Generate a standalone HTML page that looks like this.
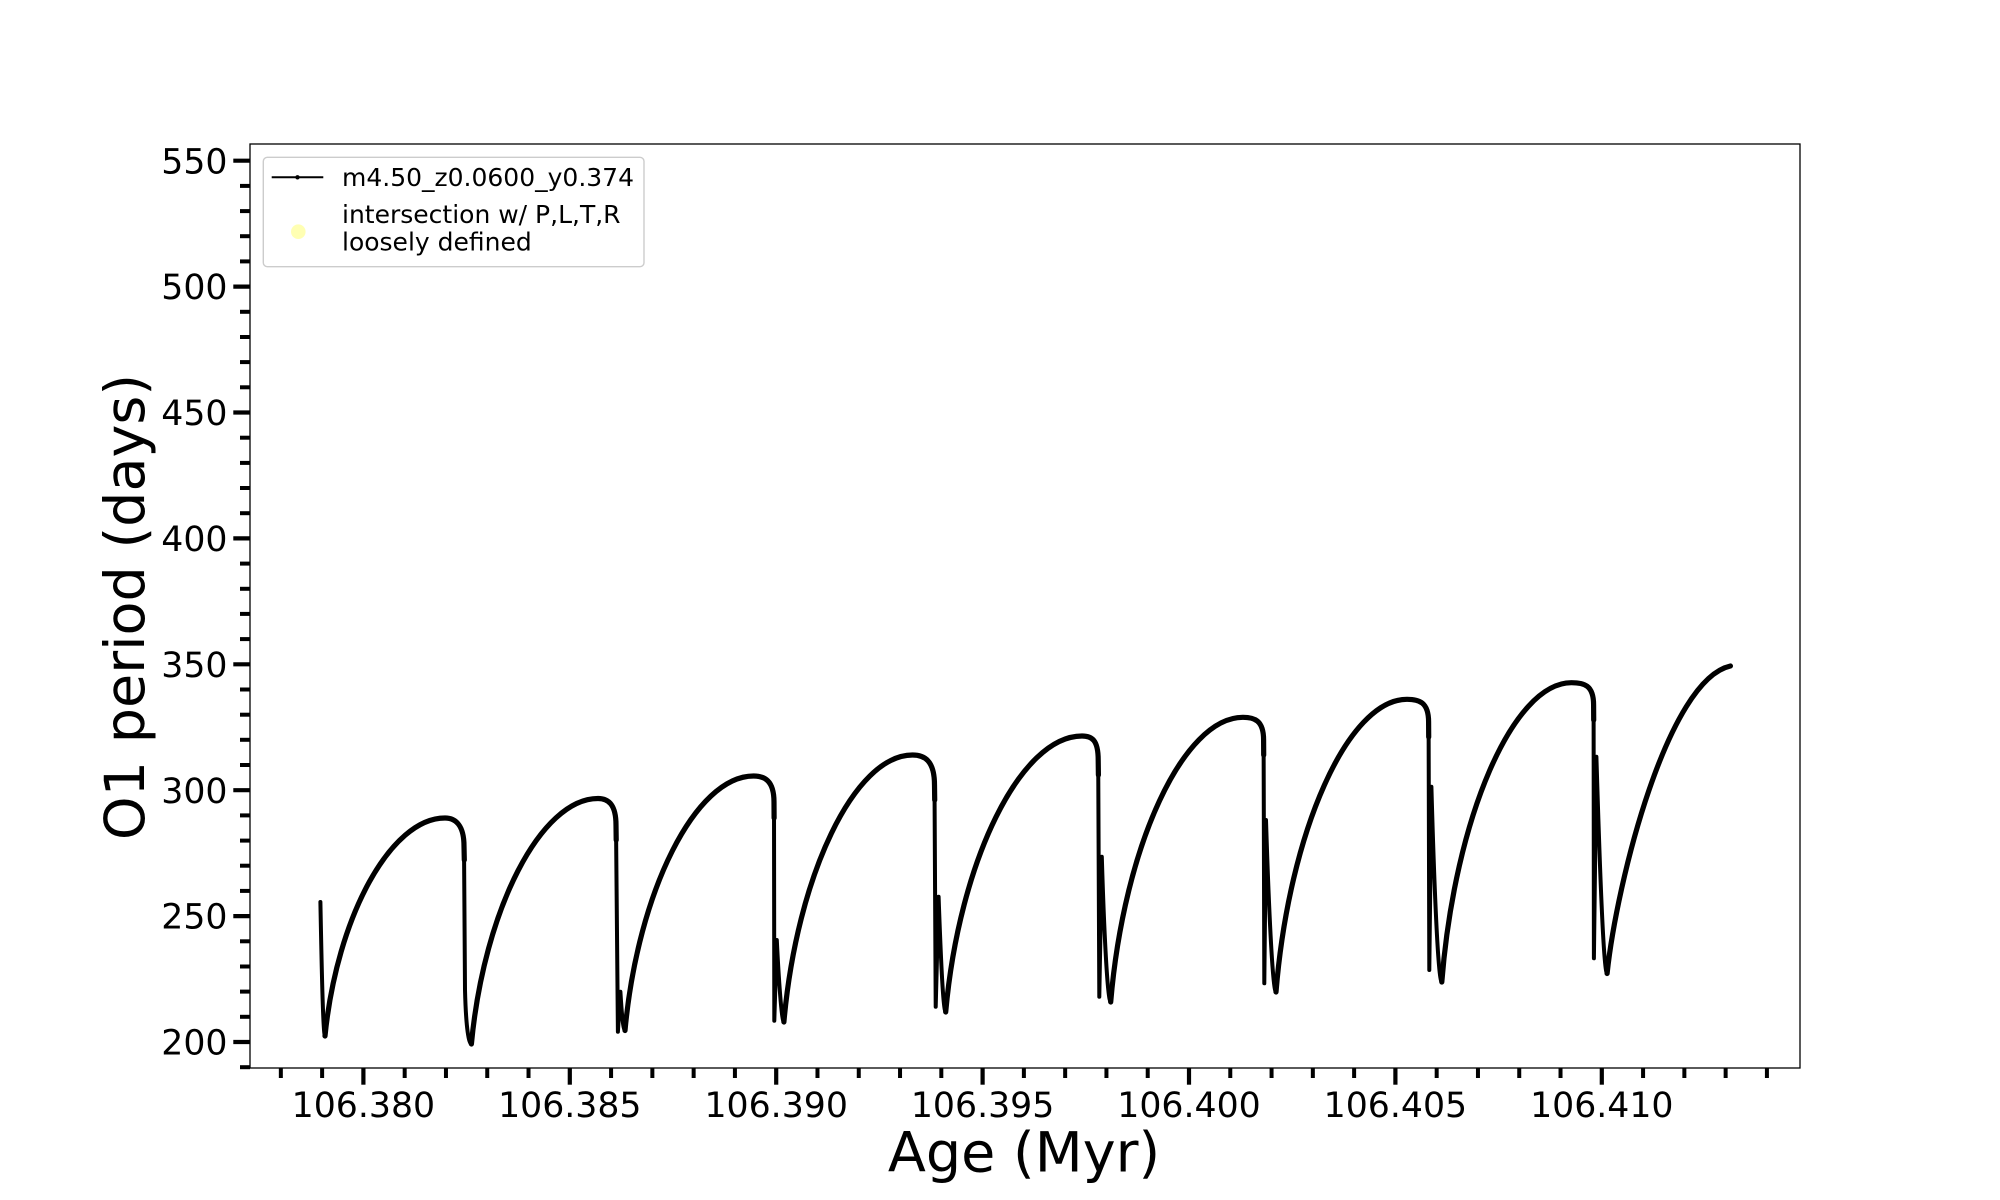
<!DOCTYPE html>
<html>
<head>
<meta charset="utf-8">
<style>
html,body{margin:0;padding:0;background:#fff;}
svg{display:block;}
text{font-family:"DejaVu Sans","Liberation Sans",sans-serif;fill:#000;}
</style>
</head>
<body>
<svg width="2000" height="1200" viewBox="0 0 2000 1200" xmlns="http://www.w3.org/2000/svg">
<rect x="0" y="0" width="2000" height="1200" fill="#fff"/>

<!-- data curve (base) -->
<path fill="none" stroke="#000" stroke-width="4" stroke-linejoin="round" stroke-linecap="round" d="
M320.4,902 C321.5,960 323,1036 325,1036
C337,916.1 391,818 445,818
C456,818 464,826 464,846
L465,990 C466,1030 469,1044 471.4,1044
C484.1,909 541,798.5 598,798.5
C608,798.5 616,804 616,825
L617.9,1031.7 L620.4,991.7 C621.5,1010 623,1030.5 625,1030.5
C637.9,890.5 695.7,776 753.6,776
C764,776 774,780 774,802
L774.3,1020.7 L776.8,940 C778.5,975 781.5,1022 783.9,1022
C796.8,875.2 854.6,755 912.5,755
C924,755 934.5,760 934.5,785
L935.7,1006.7 L938.6,896.7 C940.5,950 943,1012 945.7,1012
C959.3,860.2 1020.7,736 1082,736
C1092,736 1098.2,740 1098.2,760
L1099.3,996.7 L1101.8,856.7 C1104,930 1107.5,1002 1110.7,1002
C1123.9,845.4 1183.4,717.3 1242.9,717.3
C1254,717.3 1263.6,720 1263.6,740
L1264.3,983.3 L1266,820 C1268.5,900 1272.5,992 1276,992
C1289.1,831 1348,699.3 1407,699.3
C1419,699.3 1428.6,702 1428.6,722
L1429.3,970 L1431.4,786.7 C1434,880 1438,982 1441.8,982
C1454.8,817.4 1513.1,682.7 1571.4,682.7
C1584,682.7 1593.6,685 1593.6,705
L1593.9,958.3 L1596.4,756.7 C1599.5,860 1603.5,973.5 1607.1,973.5
C1617,880 1668,680 1730.4,666"/>

<!-- data curve (thick dense-marker overlay on rises) -->
<path fill="none" stroke="#000" stroke-width="5.2" stroke-linejoin="round" stroke-linecap="round" d="
M325,1036 C337,916.1 391,818 445,818 C456,818 464,826 464,846 L464.3,860
M471.4,1044 C484.1,909 541,798.5 598,798.5 C608,798.5 616,804 616,825 L616.2,840
M625,1030.5 C637.9,890.5 695.7,776 753.6,776 C764,776 774,780 774,802 L774.1,818
M783.9,1022 C796.8,875.2 854.6,755 912.5,755 C924,755 934.5,760 934.5,785 L934.7,800
M945.7,1012 C959.3,860.2 1020.7,736 1082,736 C1092,736 1098.2,740 1098.2,760 L1098.4,775
M1110.7,1002 C1123.9,845.4 1183.4,717.3 1242.9,717.3 C1254,717.3 1263.6,720 1263.6,740 L1263.7,755
M1276,992 C1289.1,831 1348,699.3 1407,699.3 C1419,699.3 1428.6,702 1428.6,722 L1428.7,737
M1441.8,982 C1454.8,817.4 1513.1,682.7 1571.4,682.7 C1584,682.7 1593.6,685 1593.6,705 L1593.7,720
M1607.1,973.5 C1617,880 1668,680 1730.4,666"/>

<!-- axes frame -->
<rect x="250" y="144" width="1550" height="924" fill="none" stroke="#000" stroke-width="1.3"/>

<!-- y major ticks -->
<g stroke="#000" stroke-width="4.2">
<line x1="233.3" y1="1042" x2="250" y2="1042"/>
<line x1="233.3" y1="916.1" x2="250" y2="916.1"/>
<line x1="233.3" y1="790.2" x2="250" y2="790.2"/>
<line x1="233.3" y1="664.3" x2="250" y2="664.3"/>
<line x1="233.3" y1="538.4" x2="250" y2="538.4"/>
<line x1="233.3" y1="412.5" x2="250" y2="412.5"/>
<line x1="233.3" y1="286.6" x2="250" y2="286.6"/>
<line x1="233.3" y1="160.7" x2="250" y2="160.7"/>
</g>
<!-- y minor ticks -->
<g stroke="#000" stroke-width="4">
<line x1="240" y1="1067.2" x2="250" y2="1067.2"/>
<line x1="240" y1="1016.8" x2="250" y2="1016.8"/>
<line x1="240" y1="991.6" x2="250" y2="991.6"/>
<line x1="240" y1="966.5" x2="250" y2="966.5"/>
<line x1="240" y1="941.3" x2="250" y2="941.3"/>
<line x1="240" y1="890.9" x2="250" y2="890.9"/>
<line x1="240" y1="865.7" x2="250" y2="865.7"/>
<line x1="240" y1="840.6" x2="250" y2="840.6"/>
<line x1="240" y1="815.4" x2="250" y2="815.4"/>
<line x1="240" y1="765.0" x2="250" y2="765.0"/>
<line x1="240" y1="739.8" x2="250" y2="739.8"/>
<line x1="240" y1="714.7" x2="250" y2="714.7"/>
<line x1="240" y1="689.5" x2="250" y2="689.5"/>
<line x1="240" y1="639.1" x2="250" y2="639.1"/>
<line x1="240" y1="613.9" x2="250" y2="613.9"/>
<line x1="240" y1="588.8" x2="250" y2="588.8"/>
<line x1="240" y1="563.6" x2="250" y2="563.6"/>
<line x1="240" y1="513.2" x2="250" y2="513.2"/>
<line x1="240" y1="488.0" x2="250" y2="488.0"/>
<line x1="240" y1="462.9" x2="250" y2="462.9"/>
<line x1="240" y1="437.7" x2="250" y2="437.7"/>
<line x1="240" y1="387.3" x2="250" y2="387.3"/>
<line x1="240" y1="362.1" x2="250" y2="362.1"/>
<line x1="240" y1="337.0" x2="250" y2="337.0"/>
<line x1="240" y1="311.8" x2="250" y2="311.8"/>
<line x1="240" y1="261.4" x2="250" y2="261.4"/>
<line x1="240" y1="236.2" x2="250" y2="236.2"/>
<line x1="240" y1="211.1" x2="250" y2="211.1"/>
<line x1="240" y1="185.9" x2="250" y2="185.9"/>
</g>

<!-- y tick labels -->
<g font-size="34.7" text-anchor="end">
<text x="227.5" y="1054.6">200</text>
<text x="227.5" y="928.7">250</text>
<text x="227.5" y="802.8">300</text>
<text x="227.5" y="676.9">350</text>
<text x="227.5" y="551.0">400</text>
<text x="227.5" y="425.1">450</text>
<text x="227.5" y="299.2">500</text>
<text x="227.5" y="173.3">550</text>
</g>

<!-- x major ticks -->
<g stroke="#000" stroke-width="4.2">
<line x1="363.4" y1="1068" x2="363.4" y2="1084.7"/>
<line x1="569.8" y1="1068" x2="569.8" y2="1084.7"/>
<line x1="776.2" y1="1068" x2="776.2" y2="1084.7"/>
<line x1="982.6" y1="1068" x2="982.6" y2="1084.7"/>
<line x1="1189.0" y1="1068" x2="1189.0" y2="1084.7"/>
<line x1="1395.4" y1="1068" x2="1395.4" y2="1084.7"/>
<line x1="1601.8" y1="1068" x2="1601.8" y2="1084.7"/>
</g>
<!-- x minor ticks -->
<g stroke="#000" stroke-width="4">
<line x1="280.84" y1="1068" x2="280.84" y2="1078"/>
<line x1="322.12" y1="1068" x2="322.12" y2="1078"/>
<line x1="404.68" y1="1068" x2="404.68" y2="1078"/>
<line x1="445.96" y1="1068" x2="445.96" y2="1078"/>
<line x1="487.24" y1="1068" x2="487.24" y2="1078"/>
<line x1="528.52" y1="1068" x2="528.52" y2="1078"/>
<line x1="611.08" y1="1068" x2="611.08" y2="1078"/>
<line x1="652.36" y1="1068" x2="652.36" y2="1078"/>
<line x1="693.64" y1="1068" x2="693.64" y2="1078"/>
<line x1="734.92" y1="1068" x2="734.92" y2="1078"/>
<line x1="817.48" y1="1068" x2="817.48" y2="1078"/>
<line x1="858.76" y1="1068" x2="858.76" y2="1078"/>
<line x1="900.04" y1="1068" x2="900.04" y2="1078"/>
<line x1="941.32" y1="1068" x2="941.32" y2="1078"/>
<line x1="1023.88" y1="1068" x2="1023.88" y2="1078"/>
<line x1="1065.16" y1="1068" x2="1065.16" y2="1078"/>
<line x1="1106.44" y1="1068" x2="1106.44" y2="1078"/>
<line x1="1147.72" y1="1068" x2="1147.72" y2="1078"/>
<line x1="1230.28" y1="1068" x2="1230.28" y2="1078"/>
<line x1="1271.56" y1="1068" x2="1271.56" y2="1078"/>
<line x1="1312.84" y1="1068" x2="1312.84" y2="1078"/>
<line x1="1354.12" y1="1068" x2="1354.12" y2="1078"/>
<line x1="1436.68" y1="1068" x2="1436.68" y2="1078"/>
<line x1="1477.96" y1="1068" x2="1477.96" y2="1078"/>
<line x1="1519.24" y1="1068" x2="1519.24" y2="1078"/>
<line x1="1560.52" y1="1068" x2="1560.52" y2="1078"/>
<line x1="1643.08" y1="1068" x2="1643.08" y2="1078"/>
<line x1="1684.36" y1="1068" x2="1684.36" y2="1078"/>
<line x1="1725.64" y1="1068" x2="1725.64" y2="1078"/>
<line x1="1766.92" y1="1068" x2="1766.92" y2="1078"/>
</g>

<!-- x tick labels -->
<g font-size="34.7" text-anchor="middle">
<text x="363.4" y="1117">106.380</text>
<text x="569.8" y="1117">106.385</text>
<text x="776.2" y="1117">106.390</text>
<text x="982.6" y="1117">106.395</text>
<text x="1189.0" y="1117">106.400</text>
<text x="1395.4" y="1117">106.405</text>
<text x="1601.8" y="1117">106.410</text>
</g>

<!-- axis labels -->
<text x="1024" y="1171.5" font-size="55.6" text-anchor="middle">Age (Myr)</text>
<text transform="translate(144,607) rotate(-90)" font-size="55.6" text-anchor="middle">O1 period (days)</text>

<!-- legend -->
<rect x="263.3" y="157.3" width="380.7" height="109.4" rx="4" ry="4" fill="#fff" fill-opacity="0.8" stroke="#cccccc" stroke-width="1.4"/>
<line x1="271.7" y1="177.3" x2="323.3" y2="177.3" stroke="#000" stroke-width="2"/>
<circle cx="297.5" cy="177.3" r="2.2" fill="#000"/>
<circle cx="298.3" cy="231.7" r="7.3" fill="#ffffb3"/>
<g font-size="25">
<text x="342" y="186">m4.50_z0.0600_y0.374</text>
<text x="342" y="223">intersection w/ P,L,T,R</text>
<text x="342" y="250.5">loosely defined</text>
</g>
</svg>
</body>
</html>
